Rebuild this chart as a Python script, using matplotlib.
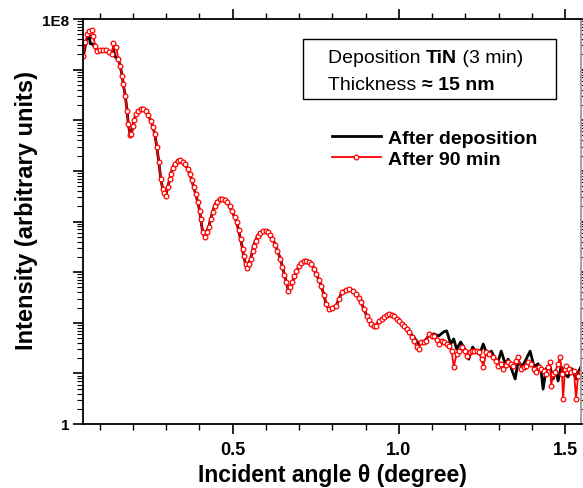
import matplotlib.pyplot as plt
from matplotlib.patches import Rectangle
from matplotlib.offsetbox import TextArea, HPacker, VPacker, AnchoredOffsetbox
from matplotlib.ticker import FixedLocator, NullFormatter, LogLocator, FixedFormatter

plt.rcParams['font.family'] = ['Liberation Sans', 'DejaVu Sans']

# intensities are stored as log10(counts)

# start of the scan (Yoneda / critical-angle region), "After 90 min"
theta_head_90 = [0.051, 0.057, 0.063, 0.069, 0.078, 0.081, 0.087, 0.093, 0.102, 0.111,
                 0.120, 0.129, 0.138, 0.141, 0.150]
logI_head_90 = [7.27, 7.55, 7.70, 7.76, 7.78, 7.66, 7.47, 7.37, 7.39, 7.39,
                7.39, 7.35, 7.31, 7.53, 7.45]

# start of the scan, "After deposition"
theta_head_dep = [0.051, 0.060, 0.069, 0.072, 0.078, 0.087, 0.093, 0.102, 0.111, 0.120,
                  0.129, 0.138, 0.141, 0.147]
logI_head_dep = [7.27, 7.57, 7.68, 7.51, 7.51, 7.43, 7.37, 7.39, 7.39, 7.39,
                 7.35, 7.31, 7.41, 7.25]

# Kiessig fringes, both curves overlap here
theta_mid = [0.156, 0.162, 0.168, 0.171, 0.177, 0.183, 0.186, 0.192, 0.195, 0.201,
             0.204, 0.210, 0.216, 0.225, 0.231, 0.240, 0.246, 0.254, 0.260, 0.266,
             0.272, 0.278, 0.284, 0.290, 0.293, 0.299, 0.305, 0.311, 0.314, 0.320,
             0.326, 0.335, 0.341, 0.350, 0.356, 0.365, 0.371, 0.377, 0.383, 0.389,
             0.395, 0.401, 0.404, 0.410, 0.416, 0.422, 0.428, 0.434, 0.440, 0.446,
             0.452, 0.461, 0.467, 0.476, 0.482, 0.491, 0.497, 0.506, 0.512, 0.518,
             0.524, 0.530, 0.533, 0.539, 0.542, 0.548, 0.554, 0.560, 0.563, 0.569,
             0.575, 0.581, 0.590, 0.599, 0.605, 0.614, 0.620, 0.629, 0.635, 0.644,
             0.650, 0.656, 0.662, 0.668, 0.674, 0.680, 0.686, 0.692, 0.701, 0.707,
             0.716, 0.722, 0.731, 0.737, 0.746, 0.752, 0.760, 0.766, 0.775, 0.781,
             0.790, 0.799, 0.811, 0.820, 0.829, 0.841, 0.850, 0.862, 0.871, 0.880,
             0.886, 0.895, 0.904, 0.910, 0.916, 0.925, 0.931, 0.940, 0.949, 0.955,
             0.964, 0.970, 0.979, 0.985, 0.994, 1.000, 1.009]
logI_mid = [7.21, 7.07, 6.87, 6.72, 6.48, 6.18, 5.93, 5.71, 5.73, 5.89,
            6.01, 6.12, 6.18, 6.22, 6.22, 6.18, 6.10, 5.99, 5.87, 5.73,
            5.47, 5.18, 4.84, 4.64, 4.56, 4.50, 4.68, 4.84, 4.94, 5.06,
            5.14, 5.20, 5.22, 5.18, 5.14, 5.04, 4.94, 4.82, 4.68, 4.54,
            4.39, 4.21, 4.05, 3.79, 3.69, 3.79, 3.89, 4.05, 4.19, 4.31,
            4.39, 4.44, 4.44, 4.43, 4.39, 4.31, 4.21, 4.09, 3.99, 3.83,
            3.65, 3.46, 3.32, 3.16, 3.08, 3.16, 3.26, 3.42, 3.52, 3.62,
            3.71, 3.77, 3.81, 3.81, 3.79, 3.73, 3.65, 3.54, 3.42, 3.26,
            3.10, 2.94, 2.80, 2.63, 2.71, 2.80, 2.92, 3.02, 3.12, 3.18,
            3.22, 3.22, 3.20, 3.16, 3.06, 2.96, 2.84, 2.73, 2.55, 2.37,
            2.27, 2.29, 2.33, 2.47, 2.61, 2.65, 2.67, 2.63, 2.57, 2.49,
            2.41, 2.27, 2.13, 2.05, 1.98, 1.94, 1.94, 2.03, 2.07, 2.11,
            2.15, 2.17, 2.15, 2.13, 2.07, 2.03, 1.98]

# noisy high-angle tail, "After 90 min"
theta_tail_90 = [1.015, 1.024, 1.030, 1.039, 1.045, 1.054, 1.060, 1.066, 1.075, 1.081,
                 1.090, 1.099, 1.105, 1.114, 1.120, 1.129, 1.135, 1.144, 1.150, 1.159,
                 1.165, 1.174, 1.180, 1.189, 1.198, 1.204, 1.213, 1.219, 1.225, 1.234,
                 1.240, 1.249, 1.254, 1.263, 1.272, 1.284, 1.293, 1.299, 1.308, 1.314,
                 1.323, 1.329, 1.338, 1.344, 1.353, 1.359, 1.368, 1.377, 1.383, 1.389,
                 1.398, 1.407, 1.413, 1.422, 1.428, 1.437, 1.443, 1.449, 1.455, 1.458,
                 1.464, 1.470, 1.479, 1.485, 1.491, 1.494, 1.500, 1.503, 1.512, 1.518,
                 1.527, 1.533, 1.539, 1.548]
logI_tail_90 = [1.94, 1.88, 1.82, 1.72, 1.64, 1.52, 1.48, 1.62, 1.62, 1.64,
                1.78, 1.74, 1.74, 1.66, 1.58, 1.64, 1.62, 1.58, 1.54, 1.44,
                1.13, 1.38, 1.44, 1.52, 1.44, 1.34, 1.42, 1.44, 1.44, 1.44,
                1.42, 1.28, 1.13, 1.42, 1.38, 1.32, 1.24, 1.15, 1.19, 1.09,
                1.17, 1.23, 1.19, 1.15, 1.24, 1.32, 1.09, 1.13, 1.15, 1.23,
                1.19, 1.09, 1.03, 1.13, 1.09, 1.05, 0.99, 1.13, 1.23, 0.75,
                0.99, 1.03, 1.19, 1.32, 0.99, 0.49, 1.09, 1.15, 1.09, 1.03,
                1.05, 0.49, 0.95, 1.03]

# noisy high-angle tail, "After deposition"
theta_tail_dep = [1.015, 1.030, 1.045, 1.060, 1.075, 1.090, 1.105, 1.120, 1.135, 1.144,
                  1.156, 1.165, 1.174, 1.186, 1.198, 1.210, 1.222, 1.231, 1.243, 1.254,
                  1.266, 1.278, 1.290, 1.299, 1.308, 1.320, 1.329, 1.341, 1.350, 1.359,
                  1.371, 1.383, 1.395, 1.407, 1.419, 1.428, 1.434, 1.443, 1.455, 1.464,
                  1.473, 1.479, 1.488, 1.497, 1.509, 1.521, 1.533, 1.542, 1.548]
logI_tail_dep = [1.92, 1.82, 1.72, 1.58, 1.62, 1.74, 1.78, 1.74, 1.82, 1.84,
                 1.58, 1.68, 1.48, 1.62, 1.48, 1.28, 1.52, 1.44, 1.38, 1.58,
                 1.36, 1.44, 1.28, 1.24, 1.44, 1.19, 1.28, 1.05, 0.89, 1.24,
                 1.13, 1.28, 1.44, 1.13, 1.19, 1.05, 0.69, 1.09, 1.13, 0.89,
                 1.05, 0.85, 1.13, 0.99, 0.93, 1.09, 0.89, 1.05, 1.13]

theta_dep = theta_head_dep + theta_mid + theta_tail_dep
int_dep = [10 ** v for v in logI_head_dep + logI_mid + logI_tail_dep]
theta_90 = theta_head_90 + theta_mid + theta_tail_90
int_90 = [10 ** v for v in logI_head_90 + logI_mid + logI_tail_90]

fig = plt.figure(figsize=(5.83, 4.89), dpi=100)
ax = fig.add_axes([83 / 583, 64 / 489, 498 / 583, 405 / 489])

ax.plot(theta_dep, int_dep, color='black', lw=2.0, label='After deposition')
ax.plot(theta_90, int_90, color='red', lw=1.3, marker='o', ms=3.4, mfc='white',
        mec='red', mew=0.9, label='After 90 min')

ax.set_yscale('log')
ax.set_ylim(1, 1e8)
ax.set_xlim(0.05, 1.548)

ax.set_xticks([0.5, 1.0, 1.5])
ax.set_xticklabels(['0.5', '1.0', '1.5'])
ax.xaxis.set_minor_locator(FixedLocator([0.1 * i for i in range(1, 16)]))
ax.yaxis.set_major_locator(FixedLocator([10.0 ** k for k in range(9)]))
ax.yaxis.set_major_formatter(FixedFormatter(['1', '', '', '', '', '', '', '', '1E8']))
ax.yaxis.set_minor_locator(LogLocator(base=10, subs=range(2, 10), numticks=20))
ax.yaxis.set_minor_formatter(NullFormatter())

ax.tick_params(axis='x', which='major', direction='out', length=7, width=1.2,
               top=True, labelsize=13, pad=5)
ax.tick_params(axis='x', which='minor', direction='out', length=4, width=1.0, top=True)
ax.tick_params(axis='y', which='major', direction='out', length=7, width=1.2,
               right=True, labelsize=11, pad=3)
ax.tick_params(axis='y', which='minor', direction='out', length=4, width=0.8, right=True)
for lab in ax.get_xticklabels() + ax.get_yticklabels():
    lab.set_fontweight('bold')
for s in ax.spines.values():
    s.set_linewidth(1.3)
ax.spines['right'].set_color('#999999')

ax.set_xlabel('Incident angle θ (degree)', fontsize=16.5, fontweight='bold', labelpad=3.5)
ax.set_ylabel('Intensity (arbitrary units)', fontsize=17, fontweight='bold')
ax.yaxis.set_label_coords(-0.09, 0.53)

ax.legend(loc='upper left', bbox_to_anchor=(0.5, 0.728), frameon=False,
          borderpad=0, borderaxespad=0, handlelength=2.5, handletextpad=0.37,
          labelspacing=0.2, prop={'weight': 'bold', 'size': 14})

# text box with mixed-weight text
ax.add_patch(Rectangle((0.4418, 0.8025), 0.5075, 0.148, transform=ax.transAxes,
                       fill=False, edgecolor='black', lw=1.0, clip_on=False))
fs = 14
line1 = HPacker(children=[TextArea('Deposition ', textprops=dict(size=fs)),
                          TextArea('TiN', textprops=dict(size=fs, weight='bold')),
                          TextArea(' (3 min)', textprops=dict(size=fs))],
                align='baseline', pad=0, sep=0)
line2 = HPacker(children=[TextArea('Thickness ', textprops=dict(size=fs)),
                          TextArea('≈ 15 nm', textprops=dict(size=fs, weight='bold'))],
                align='baseline', pad=0, sep=0)
box = VPacker(children=[line1, line2], align='left', pad=0, sep=7)
ax.add_artist(AnchoredOffsetbox(loc='center left', child=box, pad=0, borderpad=0,
                                frameon=False, bbox_to_anchor=(0.492, 0.872),
                                bbox_transform=ax.transAxes))

fig.savefig('out.png', dpi=100)
